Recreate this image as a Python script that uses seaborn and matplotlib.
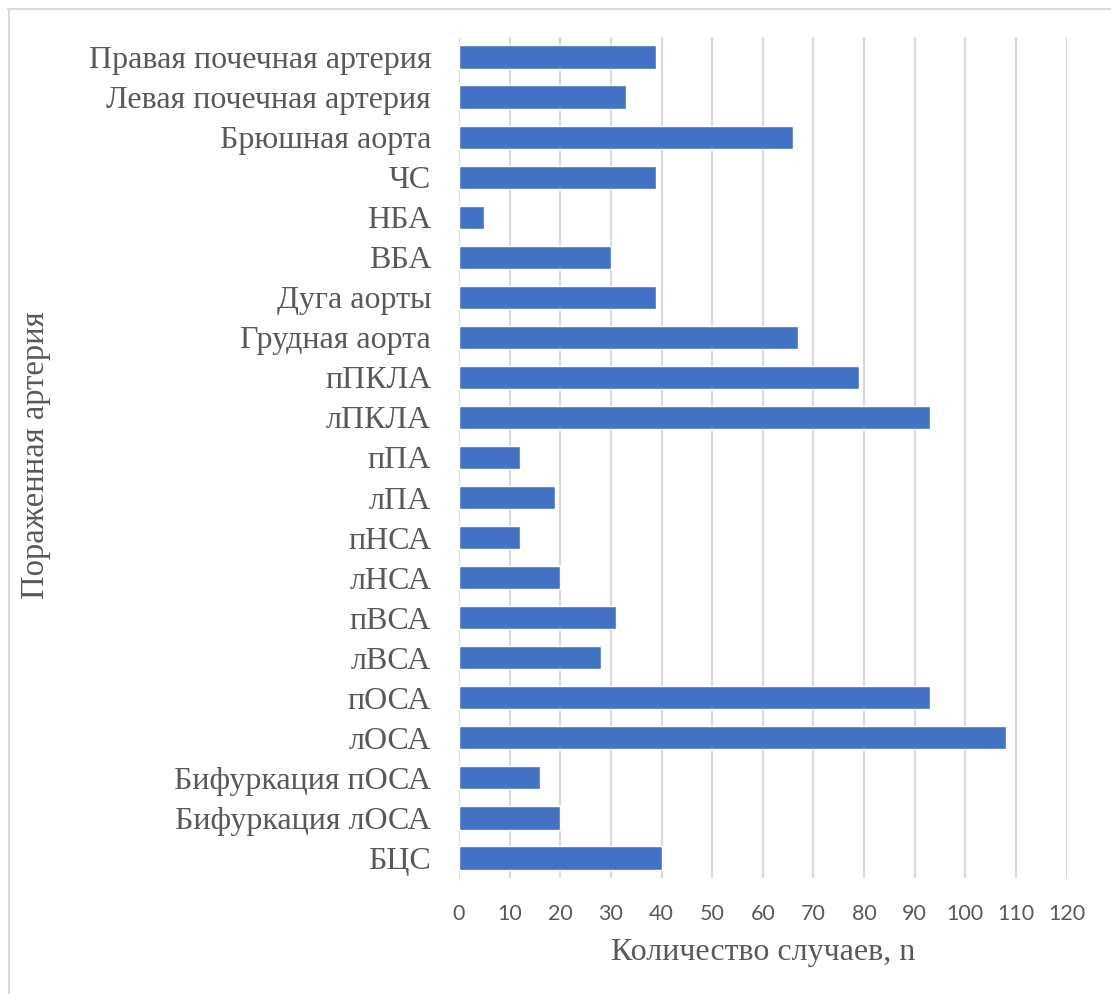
import matplotlib
matplotlib.use("Agg")
import matplotlib.pyplot as plt
from matplotlib.lines import Line2D
import seaborn as sns
import pandas as pd

# Arteries, listed top to bottom
arteries = [
    "Правая почечная артерия",
    "Левая почечная артерия",
    "Брюшная аорта",
    "ЧС",
    "НБА",
    "ВБА",
    "Дуга аорты",
    "Грудная аорта",
    "пПКЛА",
    "лПКЛА",
    "пПА",
    "лПА",
    "пНСА",
    "лНСА",
    "пВСА",
    "лВСА",
    "пОСА",
    "лОСА",
    "Бифуркация пОСА",
    "Бифуркация лОСА",
    "БЦС",
]
cases = [39, 33, 66, 39, 5, 30, 39, 67, 79, 93, 12, 19, 12, 20, 31, 28, 93, 108, 16, 20, 40]
x_ticks = list(range(0, 121, 10))

x_title = "Количество случаев, n"
y_title = "Пораженная артерия"

df = pd.DataFrame({"artery": arteries, "n": cases})

sns.set_theme(style="white")
plt.rcParams["font.family"] = ["Liberation Serif", "DejaVu Serif"]

text_color = "#595959"
grid_color = "#D9D9D9"
bar_color = "#4472C4"

fig = plt.figure(figsize=(11.11, 9.94), dpi=100)
ax = fig.add_axes([459 / 1111, 1 - 878 / 994, (1066.5 - 459) / 1111, (878 - 37) / 994])

sns.barplot(data=df, x="n", y="artery", order=arteries, orient="h",
            color=bar_color, saturation=1, width=0.58, ax=ax, zorder=3)

ax.set_xlim(0, 120)
ax.set_ylim(len(arteries) - 0.5, -0.5)
ax.set_xticks(x_ticks)
ax.set_xticklabels([str(t) for t in x_ticks], family=["Lato", "DejaVu Sans"],
                   fontsize=15.5, color=text_color)
ax.tick_params(axis="x", length=0, pad=19)
ax.tick_params(axis="y", length=0, pad=20, labelsize=23, labelcolor=text_color)
for lbl in ax.get_yticklabels():
    lbl.set_family(["Liberation Serif", "DejaVu Serif"])

ax.grid(axis="x", color=grid_color, linewidth=1.6, zorder=0)
ax.grid(axis="y", visible=False)
for side in ["top", "right", "bottom", "left"]:
    ax.spines[side].set_visible(False)

ax.set_xlabel(x_title, fontsize=23, color=text_color, labelpad=10)
ax.set_ylabel(y_title, fontsize=23.5, color=text_color, labelpad=12)
ax.yaxis.set_label_coords(-(459 - 51) / (1066.5 - 459), (878 - 455) / (878 - 37))

# Chart frame: light grey top and left edges
fig.add_artist(Line2D([8 / 1111, 1.0], [1 - 9 / 994, 1 - 9 / 994], transform=fig.transFigure,
                      color="#D9D9D9", linewidth=1.5))
fig.add_artist(Line2D([8.5 / 1111, 8.5 / 1111], [0.0, 1 - 9 / 994], transform=fig.transFigure,
                      color="#D9D9D9", linewidth=1.5))

fig.savefig("out.png", dpi=100, facecolor="white")
